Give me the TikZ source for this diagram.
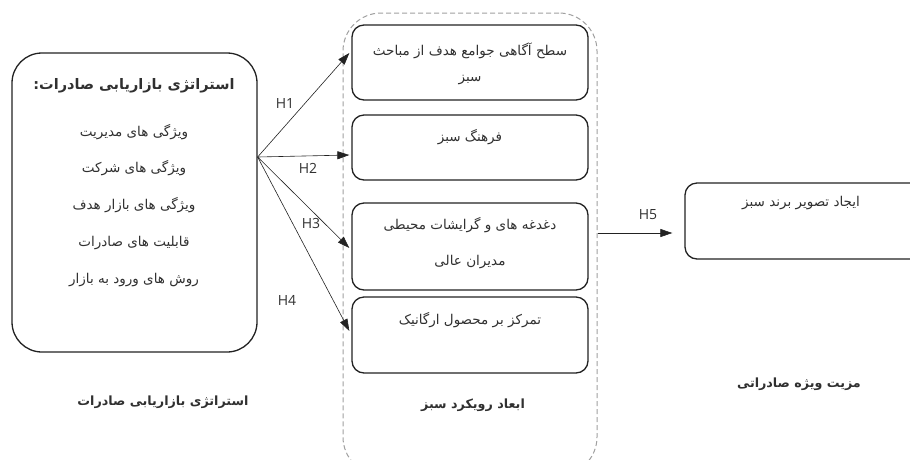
\documentclass[tikz,border=0pt]{standalone}
\usepackage{fontspec}
\setmainfont{DejaVu Sans}
\newfontfamily\fa[Script=Arabic]{DejaVu Sans}
\newfontfamily\lat{Open Sans}
\TeXXeTstate=1
\usetikzlibrary{arrows.meta}
\definecolor{ink}{HTML}{222222}
\definecolor{txt}{HTML}{303030}
\definecolor{dash}{HTML}{A0A0A0}
\begin{document}
\begin{tikzpicture}[x=1pt,y=-1pt,
  box/.style={draw=ink, line width=1.3pt, rounded corners=12pt, inner sep=0pt},
  arr/.style={draw=ink, line width=0.6pt, -{Triangle[length=12pt,width=8pt]}},
  fat/.style={font={\fa\fontsize{13.5}{16}\selectfont}, text=txt, inner sep=0pt},
  fab/.style={font={\fa\bfseries\fontsize{14.5}{17}\selectfont}, text=txt, inner sep=0pt},
  fbt/.style={font={\fa\bfseries\fontsize{12.7}{15}\selectfont}, text=txt, inner sep=0pt},
  hl/.style={font={\lat\fontsize{14}{16}\selectfont}, text=txt, inner sep=0pt}]
\useasboundingbox (0,0) rectangle (910,459);
\clip (0,0) rectangle (910,459);
% container
\node[draw=dash, dash pattern=on 5pt off 3pt, line width=1pt, rounded corners=38pt, minimum width=254pt, minimum height=462pt, inner sep=0pt] (cont) at (470,244) {};
% left box
\node[box, rounded corners=30pt, minimum width=245pt, minimum height=299pt] (L) at (134.5,202.5) {};
\node[fab] (Lt) at (134,86) {\beginR استراتژی بازاریابی صادرات:\endR};
\node[fat] (L1) at (134,132) {\beginR ویژگی های مدیریت\endR};
\node[fat] (L2) at (134,168) {\beginR ویژگی های شرکت\endR};
\node[fat] (L3) at (134,205) {\beginR ویژگی های بازار هدف\endR};
\node[fat] (L4) at (134,243) {\beginR قابلیت های صادرات\endR};
\node[fat] (L5) at (134,280) {\beginR روش های ورود به بازار\endR};
% middle boxes
\node[box, minimum width=236pt, minimum height=75pt] (b1) at (470,62.5) {};
\node[fat] (b1a) at (470,51) {\beginR سطح آگاهی جوامع هدف از مباحث\endR};
\node[fat] (b1b) at (470,80) {\beginR سبز\endR};
\node[box, minimum width=236pt, minimum height=65pt] (b2) at (470,147.5) {};
\node[fat] (b2a) at (470,137) {\beginR فرهنگ سبز\endR};
\node[box, minimum width=236pt, minimum height=87pt] (b3) at (470,246.5) {};
\node[fat] (b3a) at (470,225) {\beginR دغدغه های و گرایشات محیطی\endR};
\node[fat] (b3b) at (470,262) {\beginR مدیران عالی\endR};
\node[box, minimum width=236pt, minimum height=76pt] (b4) at (470,335) {};
\node[fat] (b4a) at (470,320) {\beginR تمرکز بر محصول ارگانیک\endR};
% right box
\node[box, minimum width=245pt, minimum height=76pt] (rb) at (807.5,221) {};
\node[fat] (rba) at (801,203) {\beginR ایجاد تصویر برند سبز\endR};
% bottom titles
\node[fbt] (t1) at (163,402) {\beginR استراتژی بازاریابی صادرات\endR};
\node[fbt] (t2) at (473,405) {\beginR ابعاد رویکرد سبز\endR};
\node[fbt] (t3) at (799,384) {\beginR مزیت ویژه صادراتی\endR};
% arrows
\coordinate (src) at ([yshift=45.5pt]L.east);
\draw[arr] (src) -- ([xshift=-2pt,yshift=9.5pt]b1.west);
\draw[arr] (src) -- ([xshift=-2pt,yshift=-7.5pt]b2.west);
\draw[arr] (src) -- ([xshift=-2pt,yshift=-1.5pt]b3.west);
\draw[arr] (src) -- ([xshift=-2pt,yshift=4pt]b4.west);
\draw[arr] ([yshift=11pt]cont.east) -- ([xshift=-12pt,yshift=-12pt]rb.west);
% labels
\node[hl] (h1) at (285,103) {H1};
\node[hl] (h2) at (308,168) {H2};
\node[hl] (h3) at (311,223) {H3};
\node[hl] (h4) at (287,300) {H4};
\node[hl] (h5) at (648,215) {H5};
\end{tikzpicture}
\end{document}
